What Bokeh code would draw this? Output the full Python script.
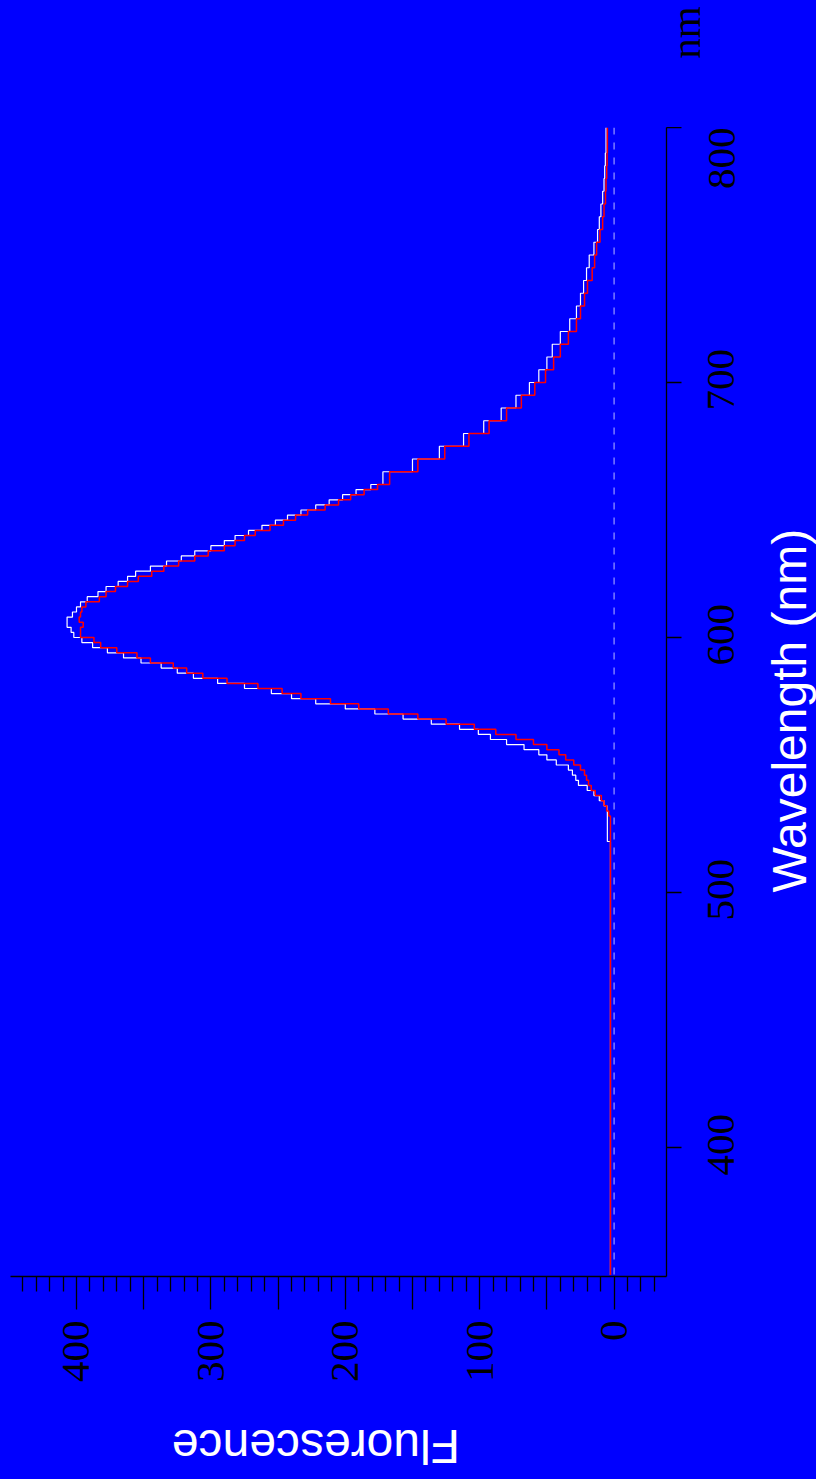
import math
from bokeh.plotting import figure
from bokeh.layouts import column
from bokeh.models import Range1d, LinearAxis, FixedTicker, Span
from bokeh.embed import file_html
from bokeh.resources import INLINE

# ---------------- data ----------------
wavelength = [350, 516,
              518, 520, 522, 524, 526, 528,
              530, 532, 534, 536, 538, 540, 542, 544, 546, 548, 550, 552, 554, 556, 558, 560,
              562, 564, 566, 568, 570, 572, 574, 576, 578, 580, 582, 584, 586, 588, 590, 592,
              594, 596, 598, 600,
              602, 604, 606, 608, 610, 612, 614, 616, 618, 620, 622, 624, 626, 628, 630, 632,
              634, 636, 638, 640, 642, 644, 646, 648, 650, 652, 654, 656, 658, 660,
              665, 670, 675, 680, 685, 690, 695, 700, 705, 710, 715, 720, 725, 730, 735, 740,
              745, 750, 755, 760, 765, 770, 775, 780, 785, 790, 795, 800]

fluor_white = [2.7, 2.7,
               2.7, 5, 5, 5, 5, 5,
               5, 5.3, 7.5, 11, 15, 20, 26.5, 28.5, 31, 34, 43, 50, 56, 67, 80, 92,
               101, 115, 136, 157, 178, 200, 222, 240, 255, 275, 295, 313, 325, 337, 352, 365,
               377, 388, 396, 402,
               404, 407, 407, 403, 400, 397, 392, 384, 378, 369, 362, 356, 345, 333, 322, 312,
               300, 290, 282, 272, 262, 252, 243, 233, 222, 212, 202, 192, 181, 172,
               150, 130, 112, 97, 84, 73, 63, 56, 50, 46, 40, 33, 28, 25, 22.7, 20.5,
               18.5, 15, 12.3, 11, 9.8, 8.5, 7.5, 7, 6.5, 6, 6, 6]

fluor_red = [2.7, 2.7,
             2.7, 2.7, 2.7, 2.7, 2.7, 2.7,
             4.0, 5.5, 7.5, 9.5, 14, 17, 19, 20.5, 22, 25, 30, 36, 41, 50, 60, 73,
             88, 104, 125, 146, 168, 190, 211, 233, 247, 265, 288, 306, 318, 328, 345, 355,
             370, 382, 387, 397,
             397, 395, 398, 397, 396, 393, 383, 378, 371, 362, 354, 344, 335, 324, 312, 302,
             290, 282, 275, 267, 256, 246, 237, 228, 215, 205, 196, 186, 176, 167,
             146, 126, 108, 93, 80, 69, 59, 51, 45, 40, 34, 28, 25, 22, 19.8, 16.3,
             14.5, 13, 10.5, 8.5, 7.5, 6.4, 6, 5.5, 5.2, 5, 5, 5]

fluor_major_ticks = [0, 50, 100, 150, 200, 250, 300, 350, 400]
fluor_minor_ticks = [-30, -20, -10, 10, 20, 30, 40, 60, 70, 80, 90, 110, 120, 130, 140,
                     160, 170, 180, 190, 210, 220, 230, 240, 260, 270, 280, 290,
                     310, 320, 330, 340, 360, 370, 380, 390, 410, 420, 430, 440]
fluor_hidden_labels = [50, 150, 250, 350]
wave_ticks = [400, 500, 600, 700, 800]

x_title = "Wavelength (nm)"
y_title = "Fluorescence"
unit_text = "nm"


def step_path(w, f):
    xs, ys = [], []
    for i in range(len(w)):
        xs.append(f[i]); ys.append(w[i])
        if i + 1 < len(w):
            xs.append(f[i]); ys.append(w[i + 1])
    return xs, ys


BLUE = "#0000ff"
SERIF = "Liberation Serif"
SANS = "Liberation Sans"


def bare_axis(ax):
    ax.axis_line_color = None
    ax.major_tick_line_color = None
    ax.minor_tick_line_color = None
    ax.major_tick_in = 0
    ax.major_tick_out = 0
    ax.minor_tick_in = 0
    ax.minor_tick_out = 0


# ---------- top strip (unit text above the wavelength axis) ----------
top = figure(width=816, height=127, output_backend="svg", toolbar_location=None,
             x_range=Range1d(449.1, -39), y_range=Range1d(800, 849.8),
             x_axis_location=None, y_axis_location=None,
             min_border=0)
top.grid.visible = False
top.outline_line_color = None
top.background_fill_color = BLUE
top.border_fill_color = BLUE
nt = LinearAxis(ticker=FixedTicker(ticks=[827], minor_ticks=[]))
bare_axis(nt)
nt.major_label_overrides = {827: unit_text}
nt.major_label_orientation = math.pi / 2
nt.major_label_standoff = 49
nt.major_label_text_font = SERIF
nt.major_label_text_font_size = "41px"
nt.major_label_text_color = "black"
top.add_layout(nt, "right")

# ---------- main plot ----------
p = figure(frame_width=656, frame_height=1149, output_backend="svg", toolbar_location=None,
           x_range=Range1d(449.1, -39), y_range=Range1d(349.4, 800),
           x_axis_location=None, y_axis_location=None,
           min_border_left=10, min_border_top=0, min_border_right=150, min_border_bottom=203)
p.grid.visible = False
p.outline_line_color = None
p.background_fill_color = BLUE
p.border_fill_color = BLUE
p.extra_y_ranges = {"lab": Range1d(360.4, 811)}

# fluorescence axis (bottom)
xa = LinearAxis(ticker=FixedTicker(ticks=fluor_major_ticks, minor_ticks=fluor_minor_ticks))
xa.major_label_overrides = {v: "" for v in fluor_hidden_labels}
xa.axis_line_color = "black"
xa.axis_line_width = 1.3
xa.major_tick_line_color = "black"
xa.major_tick_line_width = 1.3
xa.minor_tick_line_color = "black"
xa.minor_tick_line_width = 1.3
xa.major_tick_in = 0
xa.major_tick_out = 33
xa.minor_tick_in = 0
xa.minor_tick_out = 15
xa.major_label_orientation = math.pi / 2
xa.major_label_standoff = 11
xa.major_label_text_font = SERIF
xa.major_label_text_font_size = "41px"
xa.major_label_text_color = "black"
p.add_layout(xa, "below")

# fluorescence title (upside down)
xt = LinearAxis(ticker=FixedTicker(ticks=[329], minor_ticks=[]))
bare_axis(xt)
xt.major_label_overrides = {329: y_title}
xt.major_label_orientation = math.pi
xt.major_label_standoff = 61
xt.major_label_text_font = SANS
xt.major_label_text_font_size = "48px"
xt.major_label_text_color = "white"
p.add_layout(xt, "below")

# wavelength axis line + ticks (right)
ya = LinearAxis(ticker=FixedTicker(ticks=wave_ticks, minor_ticks=[]))
ya.axis_line_color = "black"
ya.axis_line_width = 1.3
ya.major_tick_line_color = "black"
ya.major_tick_line_width = 1.3
ya.major_tick_in = 0
ya.major_tick_out = 15
ya.minor_tick_line_color = None
ya.major_label_overrides = {v: "" for v in wave_ticks}
ya.major_label_standoff = 0
ya.major_label_text_font_size = "1px"
p.add_layout(ya, "right")

# wavelength tick labels, rotated and centred on their ticks
yl = LinearAxis(y_range_name="lab", ticker=FixedTicker(ticks=wave_ticks, minor_ticks=[]))
bare_axis(yl)
yl.major_label_orientation = math.pi / 2
yl.major_label_standoff = 40
yl.major_label_text_font = SERIF
yl.major_label_text_font_size = "41px"
yl.major_label_text_color = "black"
p.add_layout(yl, "right")

# wavelength title
yt = LinearAxis(ticker=FixedTicker(ticks=[500], minor_ticks=[]))
bare_axis(yt)
yt.major_label_overrides = {500: x_title}
yt.major_label_orientation = math.pi / 2
yt.major_label_standoff = 39
yt.major_label_text_font = SANS
yt.major_label_text_font_size = "48px"
yt.major_label_text_color = "white"
p.add_layout(yt, "right")

# zero line
p.add_layout(Span(location=0, dimension="height", line_color="#9a9aff",
                  line_width=1.2, line_dash="7 8", level="underlay"))

wx, wy = step_path(wavelength, fluor_white)
p.line(wx, wy, line_color="white", line_width=1.2)
rx, ry = step_path(wavelength, fluor_red)
p.line(rx, ry, line_color="red", line_width=1.5)

layout = column(top, p)

html = file_html(layout, INLINE).replace(
    "</head>",
    "<style>html, body { background: #0000ff; overflow: hidden; margin: 0; }</style></head>", 1)
open("out.html", "w").write(html)
